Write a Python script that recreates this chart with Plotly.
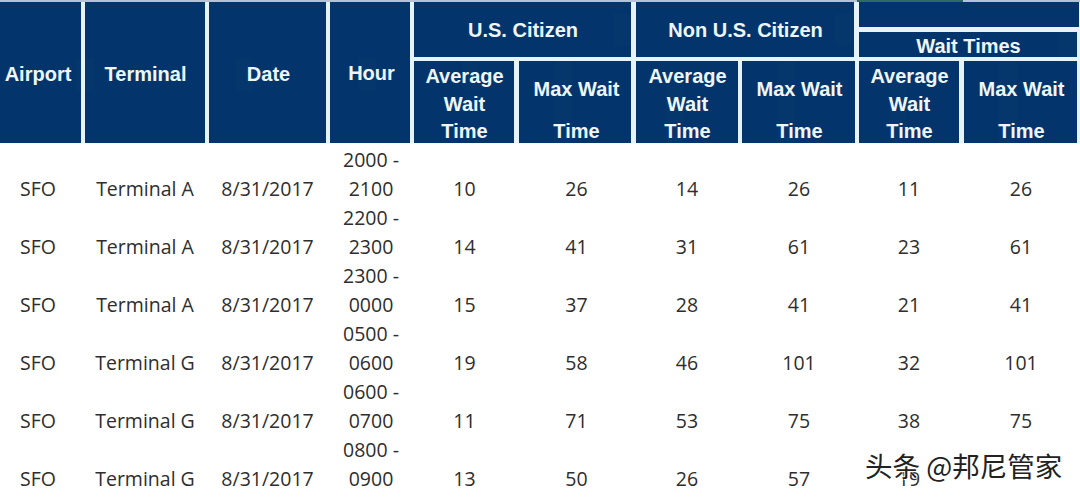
import plotly.graph_objects as go

W = 1080
H = 498

airports = ["SFO", "SFO", "SFO", "SFO", "SFO", "SFO"]
terminals = ["Terminal A", "Terminal A", "Terminal A", "Terminal G", "Terminal G", "Terminal G"]
dates = ["8/31/2017"] * 6
hour_start = ["2000 -", "2200 -", "2300 -", "0500 -", "0600 -", "0800 -"]
hour_end = ["2100", "2300", "0000", "0600", "0700", "0900"]
us_avg = [10, 14, 15, 19, 11, 13]
us_max = [26, 41, 37, 58, 71, 50]
non_avg = [14, 31, 28, 46, 53, 26]
non_max = [26, 61, 41, 101, 75, 57]
all_avg = [11, 23, 21, 32, 38, 19]
all_max = [26, 61, 41, 101, 75, ""]

navy = "#03356c"
head_text = "#eef6fa"
body_text = "#2e2e2e"
clear = "rgba(0,0,0,0)"

# navy header cells in pixels: x0, x1, y0, y1
header_boxes = [
    (0, 81, 2, 143.5), (85, 205, 2, 143.5), (209, 326, 2, 143.5), (330, 410, 2, 143.5),
    (414, 632, 2, 57.5), (636, 855, 2, 57.5), (859, 1080, 2, 28), (859, 1077.5, 32, 57.5),
    (414, 515, 61, 143.5), (519, 632, 61, 143.5), (636, 738, 61, 143.5),
    (742, 855, 61, 143.5), (859, 960, 61, 143.5), (964, 1077.5, 61, 143.5),
]

# header texts: centre x, centre y of first line, line pitch, lines
header_texts = [
    (38, 74, 27, ["Airport"]),
    (145.5, 74, 27, ["Terminal"]),
    (268.5, 74, 27, ["Date"]),
    (371.5, 73, 27, ["Hour"]),
    (523.5, 30, 27, ["U.S. Citizen"]),
    (746, 30, 27, ["Non U.S. Citizen"]),
    (969, 46, 27, ["Wait Times"]),
    (465, 76, 27.5, ["Average", "Wait", "Time"]),
    (577, 89, 42, ["Max Wait", "Time"]),
    (688, 76, 27.5, ["Average", "Wait", "Time"]),
    (800, 89, 42, ["Max Wait", "Time"]),
    (910, 76, 27.5, ["Average", "Wait", "Time"]),
    (1022, 89, 42, ["Max Wait", "Time"]),
]

body_centers = [38, 145, 268, 371, 465, 577, 687, 799, 909, 1021]


def nb(s):
    # stops the table wrapping and growing the row
    return str(s).replace(" ", "\u00a0")


def two_lines(first, second):
    out = []
    for a, b in zip(first, second):
        out += [nb(a), nb(b)]
    return out


fig = go.Figure()

for x0, x1, y0, y1 in header_boxes:
    fig.add_trace(go.Table(
        domain=dict(x=[x0 / W, x1 / W], y=[1 - y1 / H, 1 - y0 / H]),
        header=dict(values=[""], height=0, fill_color=navy, line_width=0),
        cells=dict(values=[[""]], height=y1 - y0, fill_color=navy, line_width=0),
    ))

for cx, first_y, pitch, lines in header_texts:
    half = min(cx, W - cx, 90)
    top = first_y - 16
    bottom = top + pitch * len(lines) + 6
    fig.add_trace(go.Table(
        domain=dict(x=[(cx - half) / W, (cx + half) / W], y=[1 - bottom / H, 1 - top / H]),
        header=dict(values=[""], height=0, fill_color=clear, line_width=0),
        cells=dict(
            values=[[nb(t) for t in lines]],
            height=pitch,
            align="center",
            fill_color=clear,
            line_width=0,
            font=dict(family="Liberation Sans", size=20, color=head_text, weight=700),
        ),
    ))

# two table rows for every record, the hour range takes both
blank = [""] * 6
body = [
    two_lines(blank, airports),
    two_lines(blank, terminals),
    two_lines(blank, dates),
    two_lines(hour_start, hour_end),
    two_lines(blank, us_avg),
    two_lines(blank, us_max),
    two_lines(blank, non_avg),
    two_lines(blank, non_max),
    two_lines(blank, all_avg),
    two_lines(blank, all_max),
]

for cx, column in zip(body_centers, body):
    half = min(cx, W - cx, 55)
    fig.add_trace(go.Table(
        domain=dict(x=[(cx - half) / W, (cx + half) / W], y=[0, 1 - 144 / H]),
        header=dict(values=[""], height=0, fill_color=clear, line_width=0),
        cells=dict(
            values=[column],
            height=29,
            align="center",
            fill_color=clear,
            line_width=0,
            font=dict(family="Open Sans", size=19.5, color=body_text),
        ),
    ))

fig.update_layout(
    width=W,
    height=H,
    margin=dict(l=0, r=0, t=0, b=0),
    paper_bgcolor="white",
    showlegend=False,
    shapes=[
        dict(type="rect", xref="paper", yref="paper", x0=0, x1=1, y0=1 - 143.5 / H, y1=1,
             fillcolor="#e6f3f7", line_width=0, layer="below"),
        dict(type="rect", xref="paper", yref="paper", x0=0, x1=1, y0=1 - 2 / H, y1=1,
             fillcolor="#b4c3d8", line_width=0),
        dict(type="rect", xref="paper", yref="paper", x0=857 / W, x1=963 / W, y0=1 - 2 / H, y1=1,
             fillcolor="#2e6b5e", line_width=0),
    ],
    annotations=[
        dict(text="头条 @邦尼管家", xref="paper", yref="paper", x=1064 / W, y=1 - 465 / H,
             xanchor="right", yanchor="middle", showarrow=False,
             font=dict(family="Noto Sans CJK SC", size=27.5, color="#222222",
                       shadow="1px 1px 1px white, -1px -1px 1px white")),
    ],
)

# page margin would push the fixed size figure off by 8px
fig.write_html("out.html", config=dict(displayModeBar=False),
               post_script="document.body.style.margin='0';")
